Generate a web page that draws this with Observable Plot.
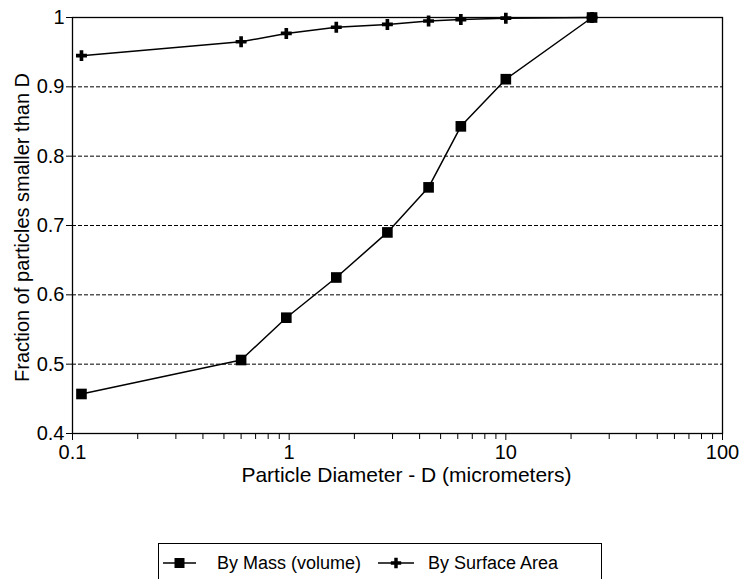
<!DOCTYPE html>
<html><head><meta charset="utf-8">
<script src="https://cdn.jsdelivr.net/npm/d3@7"></script>
<script src="https://cdn.jsdelivr.net/npm/@observablehq/plot@0.6"></script>
<style>
body{margin:0;background:#fff;font-family:"Liberation Sans",Arial,sans-serif;color:#000;}
#wrap{position:relative;width:740px;height:579px;overflow:hidden;}
#chart{position:absolute;left:0;top:0;}
#legend{position:absolute;left:158px;top:543px;width:444px;height:60px;border:1.5px solid #000;box-sizing:border-box;font-size:18px;}
.item{position:absolute;top:9px;height:20px;}
.item svg{position:absolute;top:2px;}
.item span{position:absolute;top:0;line-height:20px;white-space:nowrap;}
</style></head><body>
<div id="wrap"><div id="chart"></div><div id="legend"></div></div>
<script>
const diameters = [0.11, 0.6, 0.97, 1.65, 2.84, 4.4, 6.2, 10, 25];
const byMass = [0.457, 0.506, 0.567, 0.625, 0.690, 0.755, 0.843, 0.911, 1.0];
const bySurface = [0.945, 0.965, 0.977, 0.986, 0.990, 0.995, 0.997, 0.999, 1.0];
const seriesNames = ["By Mass (volume)", "By Surface Area"];
const yTicks = [0.4, 0.5, 0.6, 0.7, 0.8, 0.9, 1];
const gridLevels = [0.5, 0.6, 0.7, 0.8, 0.9];
const xMajorTicks = [0.1, 1, 10, 100];
const xMinorTicks = [0.2,0.3,0.4,0.5,0.6,0.7,0.8,0.9,2,3,4,5,6,7,8,9,20,30,40,50,60,70,80,90];
const xLabel = "Particle Diameter - D (micrometers)";
const yLabel = "Fraction of particles smaller than D";

const mass = diameters.map((d, i) => ({x: d, y: byMass[i]}));
const surf = diameters.map((d, i) => ({x: d, y: bySurface[i]}));

const chart = Plot.plot({
  width: 740, height: 540,
  marginLeft: 72, marginRight: 18, marginTop: 17, marginBottom: 107,
  style: {fontFamily: '"Liberation Sans", Arial, sans-serif', fontSize: "20px", color: "#000", background: "#fff", overflow: "visible"},
  x: {type: "log", domain: [0.1, 100]},
  y: {domain: [0.4, 1]},
  marks: [
    Plot.ruleY(gridLevels, {stroke: "#000", strokeWidth: 1, strokeDasharray: "4,2"}),
    Plot.frame({stroke: "#000", strokeWidth: 1.3}),
    Plot.axisY({ticks: yTicks, tickSize: 6, tickPadding: 2, tickFormat: d3.format("~g"), fontSize: 20, label: null}),
    Plot.axisX({ticks: xMajorTicks, tickSize: 7, tickPadding: 4, tickFormat: d3.format("~g"), fontSize: 20, label: null}),
    Plot.axisX({ticks: xMinorTicks, tickSize: 6, tickFormat: () => "", label: null}),
    Plot.text([xLabel], {text: d => d, frameAnchor: "bottom", textAnchor: "middle", dy: 48, dx: 9, fontSize: 21}),
    Plot.text([yLabel], {text: d => d, frameAnchor: "left", textAnchor: "middle", rotate: -90, dx: -50, dy: 2, fontSize: 20}),
    Plot.line(mass, {x: "x", y: "y", stroke: "#000", strokeWidth: 1.5}),
    Plot.line(surf, {x: "x", y: "y", stroke: "#000", strokeWidth: 1.5}),
    Plot.dot(surf, {x: "x", y: "y", symbol: "cross", r: 4.6, fill: "#000", stroke: "none"}),
    Plot.dot(mass, {x: "x", y: "y", symbol: "square", r: 6, fill: "#000", stroke: "none"})
  ]
});
document.getElementById("chart").append(chart);

const legend = document.getElementById("legend");
const legendSymbols = [d3.symbolSquare, d3.symbolCross];
const legendSizes = [100, 60];
const lineLefts = [4, 219];
const lineWidths = [33, 36];
const textLefts = [58, 269];
seriesNames.forEach((name, i) => {
  const item = document.createElement("div");
  item.className = "item";
  const w = lineWidths[i];
  const path = d3.symbol(legendSymbols[i], legendSizes[i])();
  item.innerHTML = `<svg style="left:${lineLefts[i]}px" width="${w}" height="16"><line x1="0" x2="${w}" y1="8" y2="8" stroke="#000" stroke-width="1.5"/><path d="${path}" transform="translate(${w/2},8)" fill="#000"/></svg><span style="left:${textLefts[i]}px">${name}</span>`;
  legend.append(item);
});
</script>
</body></html>
